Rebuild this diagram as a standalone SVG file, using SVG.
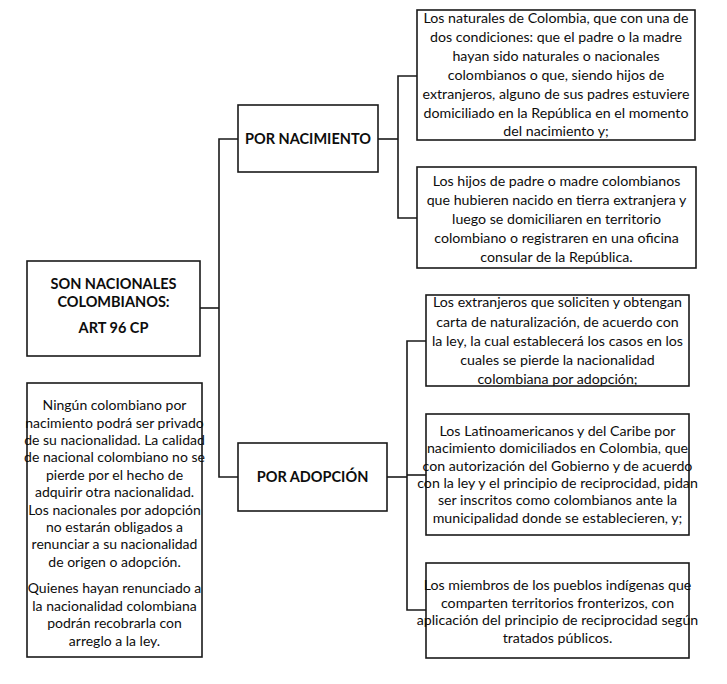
<svg xmlns="http://www.w3.org/2000/svg" width="727" height="684" viewBox="0 0 727 684">
<style>
.box{fill:#fff;stroke:#1a1a1a;stroke-width:1.6}
.ln{fill:none;stroke:#1a1a1a;stroke-width:1.6}
text{font-family:Lato,"Liberation Sans",sans-serif;font-size:14.2px;fill:#0d0d0d;text-anchor:middle}
.b{font-weight:bold;font-size:14.5px}
#nota text{font-size:14px}
</style>
<rect width="727" height="684" fill="#fff"/>
<g id="connectors">
<polyline class="ln" points="200,308 219,308"/>
<polyline class="ln" points="238,139 219,139 219,477 238,477"/>
<polyline class="ln" points="378,139 398,139"/>
<polyline class="ln" points="417,76 398,76 398,218 417,218"/>
<polyline class="ln" points="387,477 407,477"/>
<polyline class="ln" points="426,341 407,341 407,610 426,610"/>
<polyline class="ln" points="407,475 426,475"/>
</g>
<g id="root">
<rect class="box" x="27" y="261" width="173" height="95"/>
<text class="b" x="113.5" y="289">SON NACIONALES</text>
<text class="b" x="113.5" y="307">COLOMBIANOS:</text>
<text class="b" x="113.5" y="333">ART 96 CP</text>
</g>
<g id="nacimiento">
<rect class="box" x="238" y="105" width="140" height="67"/>
<text class="b" x="308" y="144">POR NACIMIENTO</text>
</g>
<g id="adopcion">
<rect class="box" x="238" y="443" width="149" height="68"/>
<text class="b" x="312.5" y="482">POR ADOPCIÓN</text>
</g>
<g id="nac1">
<rect class="box" x="417" y="10" width="278" height="130"/>
<text x="556" y="23">Los naturales de Colombia, que con una de</text>
<text x="556" y="42">dos condiciones: que el padre o la madre</text>
<text x="556" y="61">hayan sido naturales o nacionales</text>
<text x="556" y="80">colombianos o que, siendo hijos de</text>
<text x="556" y="99">extranjeros, alguno de sus padres estuviere</text>
<text x="556" y="118">domiciliado en la República en el momento</text>
<text x="556" y="136">del nacimiento y;</text>
</g>
<g id="nac2">
<rect class="box" x="417" y="167" width="279" height="101"/>
<text x="556.5" y="186">Los hijos de padre o madre colombianos</text>
<text x="556.5" y="205">que hubieren nacido en tierra extranjera y</text>
<text x="556.5" y="224">luego se domiciliaren en territorio</text>
<text x="556.5" y="243">colombiano o registraren en una oficina</text>
<text x="556.5" y="262">consular de la República.</text>
</g>
<g id="adop1">
<rect class="box" x="426" y="295" width="263" height="91"/>
<text x="557.5" y="307">Los extranjeros que soliciten y obtengan</text>
<text x="557.5" y="327">carta de naturalización, de acuerdo con</text>
<text x="557.5" y="346">la ley, la cual establecerá los casos en los</text>
<text x="557.5" y="365">cuales se pierde la nacionalidad</text>
<text x="557.5" y="384">colombiana por adopción;</text>
</g>
<g id="adop2">
<rect class="box" x="426" y="414" width="263" height="121"/>
<text x="557.5" y="436">Los Latinoamericanos y del Caribe por</text>
<text x="557.5" y="453">nacimiento domiciliados en Colombia, que</text>
<text x="557.5" y="471">con autorización del Gobierno y de acuerdo</text>
<text x="557.5" y="488">con la ley y el principio de reciprocidad, pidan</text>
<text x="557.5" y="505">ser inscritos como colombianos ante la</text>
<text x="557.5" y="523">municipalidad donde se establecieren, y;</text>
</g>
<g id="adop3">
<rect class="box" x="426" y="563" width="263" height="95"/>
<text x="557.5" y="590">Los miembros de los pueblos indígenas que</text>
<text x="557.5" y="608">comparten territorios fronterizos, con</text>
<text x="557.5" y="625">aplicación del principio de reciprocidad según</text>
<text x="557.5" y="643">tratados públicos.</text>
</g>
<g id="nota">
<rect class="box" x="27" y="383" width="175" height="274"/>
<text x="114.5" y="410">Ningún colombiano por</text>
<text x="114.5" y="428">nacimiento podrá ser privado</text>
<text x="114.5" y="445">de su nacionalidad. La calidad</text>
<text x="114.5" y="462">de nacional colombiano no se</text>
<text x="114.5" y="480">pierde por el hecho de</text>
<text x="114.5" y="497">adquirir otra nacionalidad.</text>
<text x="114.5" y="515">Los nacionales por adopción</text>
<text x="114.5" y="532">no estarán obligados a</text>
<text x="114.5" y="549">renunciar a su nacionalidad</text>
<text x="114.5" y="567">de origen o adopción.</text>
<text x="114.5" y="593">Quienes hayan renunciado a</text>
<text x="114.5" y="611">la nacionalidad colombiana</text>
<text x="114.5" y="628">podrán recobrarla con</text>
<text x="114.5" y="646">arreglo a la ley.</text>
</g>
</svg>
